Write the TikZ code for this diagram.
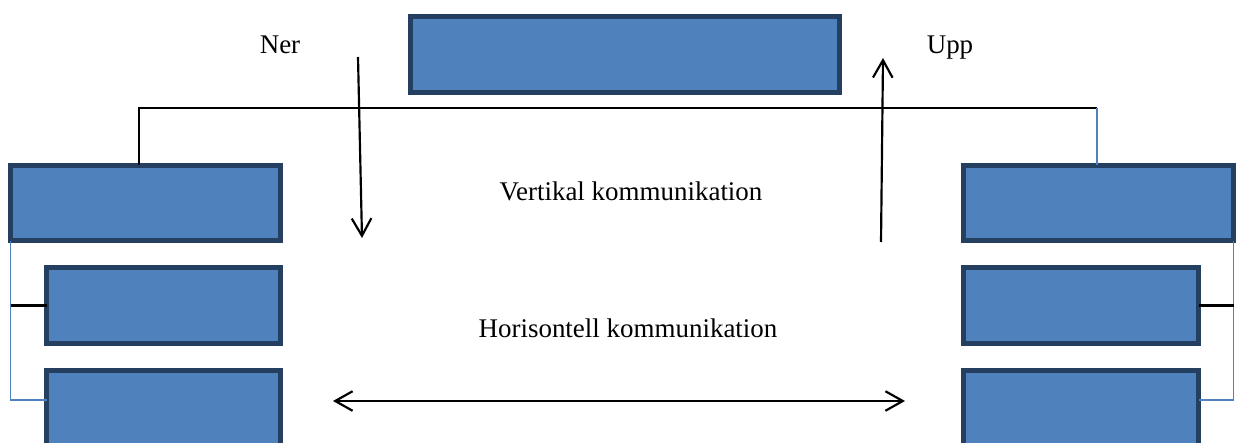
\documentclass[tikz,border=0pt]{standalone}
\usepackage{fontspec}
\setmainfont{Liberation Serif}
\usetikzlibrary{positioning,arrows.meta}
\definecolor{boxfill}{HTML}{4F81BD}
\definecolor{boxline}{HTML}{243F60}

\begin{document}
\begin{tikzpicture}[x=0.46pt,y=-0.46pt,>={Straight Barb[length=8pt,width=9pt]},
  orgbox/.style={draw=boxline,fill=boxfill,line width=2.3pt,inner sep=0pt,outer sep=0pt},
  blueline/.style={draw=boxfill,line width=0.75pt},
  blackline/.style={draw=black,line width=1pt},
  label/.style={font=\fontsize{12.4}{14}\selectfont,anchor=base}]
\useasboundingbox (0,0) rectangle (1236,443);
% boxes
\node[orgbox,minimum width=429*0.46pt,minimum height=76*0.46pt] (head) at (625,54.5) {};
\node[orgbox,minimum width=270*0.46pt,minimum height=75.5*0.46pt] (lA) at (145.5,203) {};
\node[orgbox,minimum width=234*0.46pt,minimum height=76*0.46pt] (lB) at (163.5,305.5) {};
\node[orgbox,minimum width=234*0.46pt,minimum height=76*0.46pt] (lC) at (163.5,408) {};
\node[orgbox,minimum width=270*0.46pt,minimum height=75.5*0.46pt] (rA) at (1098.5,203) {};
\node[orgbox,minimum width=235*0.46pt,minimum height=76*0.46pt] (rB) at (1081,305.5) {};
\node[orgbox,minimum width=235*0.46pt,minimum height=76*0.46pt] (rC) at (1081,408) {};
% connectors
\coordinate (lt) at (139,108);
\coordinate (rt) at (1097,108);
\coordinate (lj) at (10,400);
\coordinate (rj) at (1234,400);
\draw[blackline] (lA.north -| lt) -- (lt) -- (rt);
\draw[blueline] (rt) -- (rA.north -| rt);
\draw[blueline] (lA.south west) -- (lA.south west |- lj) -- (lC.west |- lj);
\draw[blackline] (lB.west -| lA.west) -- (lB.west);
\draw[blueline] (rA.south east) -- (rA.south east |- rj) -- (rC.east |- rj);
\draw[blackline] (rB.east -| rA.east) -- (rB.east);
% labels
\node[label] (ner) at (280,54) {Ner};
\node[label] (upp) at (950,54) {Upp};
\node[label] (vert) at (631,200) {Vertikal kommunikation};
\node[label] (hor) at (628,337) {Horisontell kommunikation};
% arrows
\coordinate (nerA) at (358,57);
\coordinate (nerB) at (362,238);
\coordinate (uppA) at (881,242);
\coordinate (uppB) at (883,58);
\coordinate (horA) at (333,401);
\coordinate (horB) at (905,401);
\draw[->,line width=1pt] (nerA) -- (nerB);
\draw[->,line width=1pt] (uppA) -- (uppB);
\draw[<->,line width=1pt] (horA) -- (horB);
\end{tikzpicture}
\end{document}
